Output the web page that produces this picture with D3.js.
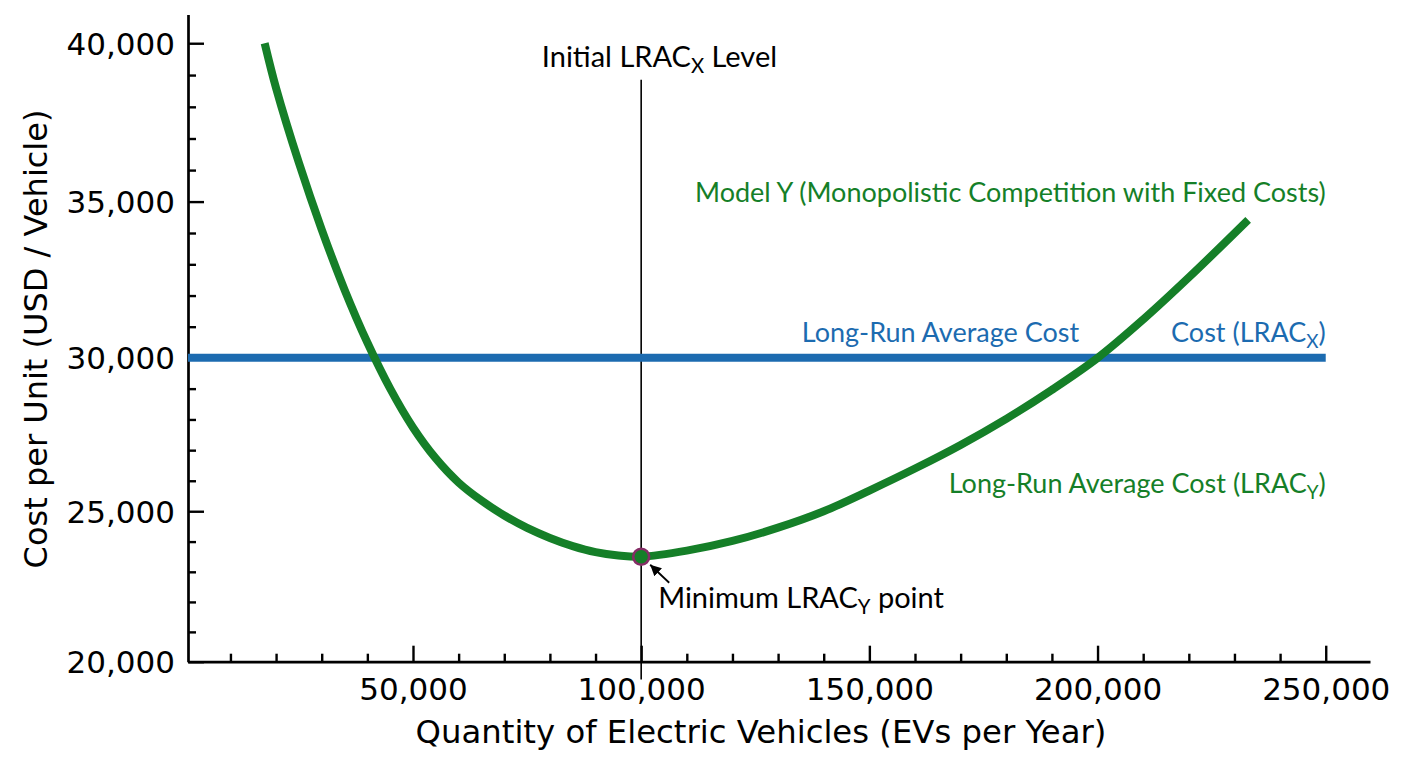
<!DOCTYPE html>
<html>
<head>
<meta charset="utf-8">
<script src="https://cdn.jsdelivr.net/npm/d3@7"></script>
<style>
  body { margin: 0; background: #fff; }
  svg { display: block; }
  .tick text { font-family: "DejaVu Sans", sans-serif; font-size: 31px; fill: #000; }
  .note { font-family: Lato, "Open Sans", sans-serif; font-size: 27px; }
  .note.black { font-size: 29px; }
</style>
</head>
<body>
<div id="chart"></div>
<script>
// LRAC_Y curve
const quantity = [17500, 20000, 25000, 30000, 35000, 40000, 45000, 50000, 55000, 60000,
    65000, 70000, 75000, 80000, 85000, 90000, 95000, 100000, 110000, 120000,
    130000, 140000, 150000, 160000, 170000, 180000, 190000, 200000, 210000, 220000, 233000];
const lracY = [40000, 38590, 36230, 34110, 32190, 30490, 29000, 27740, 26730, 25940,
    25350, 24860, 24450, 24120, 23850, 23650, 23540, 23500, 23700, 24020,
    24460, 25000, 25680, 26400, 27170, 28020, 28960, 29990, 31230, 32580, 34420];

// flat LRAC_X level
const lracXQuantity = [0, 250000];
const lracXLevel = 30000;

// minimum of LRAC_Y
const minQuantity = 100000;
const minCost = 23500;
const initialLineCost = [19400, 38850];

const xMajorTicks = [50000, 100000, 150000, 200000, 250000];
const xMinorTicks = d3.range(10000, 250001, 10000);
const yMajorTicks = [20000, 25000, 30000, 35000, 40000];
const yMinorTicks = d3.range(20000, 40001, 1000);

const width = 1408;
const height = 768;
const green = "#157f28";
const blue = "#1c6bb0";

const svg = d3.select("#chart")
    .append("svg")
    .attr("width", width)
    .attr("height", height);

const x = d3.scaleLinear()
    .domain([700, 259700])
    .range([188, 1370])
    .clamp(true);

// the picture's y axis is slightly stretched at the top, a pow scale matches it
const y = d3.scalePow()
    .exponent(1.1)
    .domain([20000, 40900])
    .range([661.7, 14.5]);

const fmt = d3.format(",");

// Axes: ticks point inward
const xAxis = svg.append("g")
    .attr("transform", `translate(0,${y(20000)})`)
    .call(d3.axisBottom(x).tickValues(xMajorTicks).tickFormat(fmt)
        .tickSizeInner(-16).tickSizeOuter(0).tickPadding(16));
xAxis.append("g")
    .call(d3.axisBottom(x).tickValues(xMinorTicks.filter(d => d % 50000 != 0))
        .tickFormat("").tickSizeInner(-8).tickSizeOuter(0))
    .select(".domain").remove();

const yAxis = svg.append("g")
    .attr("transform", `translate(${x(700)},0)`)
    .call(d3.axisLeft(y).tickValues(yMajorTicks).tickFormat(fmt)
        .tickSizeInner(-16).tickSizeOuter(0).tickPadding(13));
yAxis.append("g")
    .call(d3.axisLeft(y).tickValues(yMinorTicks.filter(d => d % 5000 != 0))
        .tickFormat("").tickSizeInner(-8).tickSizeOuter(0))
    .select(".domain").remove();

svg.selectAll(".domain").attr("stroke", "#000").attr("stroke-width", 2.7);
svg.selectAll(".tick line").attr("stroke", "#000").attr("stroke-width", 2.4);
yAxis.selectAll(".tick text").attr("dy", "0.36em");

// Axis titles
svg.append("text")
    .attr("x", 761)
    .attr("y", 743)
    .attr("text-anchor", "middle")
    .style("font-family", "DejaVu Sans, sans-serif")
    .style("font-size", "32.3px")
    .text("Quantity of Electric Vehicles (EVs per Year)");

svg.append("text")
    .attr("transform", "translate(47,339) rotate(-90)")
    .attr("text-anchor", "middle")
    .style("font-family", "DejaVu Sans, sans-serif")
    .style("font-size", "32px")
    .text("Cost per Unit (USD / Vehicle)");

// Initial LRAC_X level marker line
svg.append("line")
    .attr("x1", x(minQuantity)).attr("x2", x(minQuantity))
    .attr("y1", y(initialLineCost[0])).attr("y2", y(initialLineCost[1]))
    .attr("stroke", "#000")
    .attr("stroke-width", 1.6);

// LRAC_X
svg.append("path")
    .datum(lracXQuantity)
    .attr("fill", "none")
    .attr("stroke", blue)
    .attr("stroke-width", 8)
    .attr("d", d3.line().x(d => x(d)).y(() => y(lracXLevel)));

// LRAC_Y
const curve = quantity.map((q, i) => ({ q: q, cost: lracY[i] }));
svg.append("path")
    .datum(curve)
    .attr("fill", "none")
    .attr("stroke", green)
    .attr("stroke-width", 8)
    .attr("d", d3.line().curve(d3.curveCatmullRom).x(d => x(d.q)).y(d => y(d.cost)));

// minimum point
const cx = x(minQuantity);
const cy = y(minCost);
svg.append("circle")
    .attr("cx", cx).attr("cy", cy).attr("r", 8)
    .attr("fill", green)
    .attr("stroke", "#852d66")
    .attr("stroke-width", 2.6);

svg.append("defs").append("marker")
    .attr("id", "arrow")
    .attr("viewBox", "0 0 10 10")
    .attr("refX", 10).attr("refY", 5)
    .attr("markerWidth", 11).attr("markerHeight", 11)
    .attr("markerUnits", "userSpaceOnUse")
    .attr("orient", "auto")
    .append("path")
    .attr("d", "M0,0L10,5L0,10z")
    .attr("fill", "#000");

svg.append("line")
    .attr("x1", cx + 28).attr("y1", cy + 26)
    .attr("x2", cx + 9).attr("y2", cy + 8)
    .attr("stroke", "#000")
    .attr("stroke-width", 1.8)
    .attr("marker-end", "url(#arrow)");

// Annotations, parts with sub are drawn as subscripts
function note(px, py, anchor, color, parts) {
    const el = svg.append("text")
        .attr("class", color == "#000" ? "note black" : "note")
        .attr("x", px)
        .attr("y", py)
        .attr("text-anchor", anchor)
        .attr("fill", color);
    let shift = 0;
    parts.forEach(p => {
        if (p.sub) {
            el.append("tspan").attr("dy", 6 - shift).style("font-size", "0.7em").text(p.sub);
            shift = 6;
        } else {
            el.append("tspan").attr("dy", -shift).text(p.t);
            shift = 0;
        }
    });
    return el;
}

note(x(104000), 66.7, "middle", "#000",
    [{ t: "Initial LRAC" }, { sub: "X" }, { t: " Level" }]);
note(x(250000), y(35000), "end", green,
    [{ t: "Model Y (Monopolistic Competition with Fixed Costs)" }]);
note(x(135200), y(30500), "start", blue,
    [{ t: "Long-Run Average Cost" }]);
note(x(250000), y(30500), "end", blue,
    [{ t: "Cost (LRAC" }, { sub: "X" }, { t: ")" }]);
note(x(250000), y(25600), "end", green,
    [{ t: "Long-Run Average Cost (LRAC" }, { sub: "Y" }, { t: ")" }]);
note(cx + 17, cy + 51, "start", "#000",
    [{ t: "Minimum LRAC" }, { sub: "Y" }, { t: " point" }]);
</script>
</body>
</html>
